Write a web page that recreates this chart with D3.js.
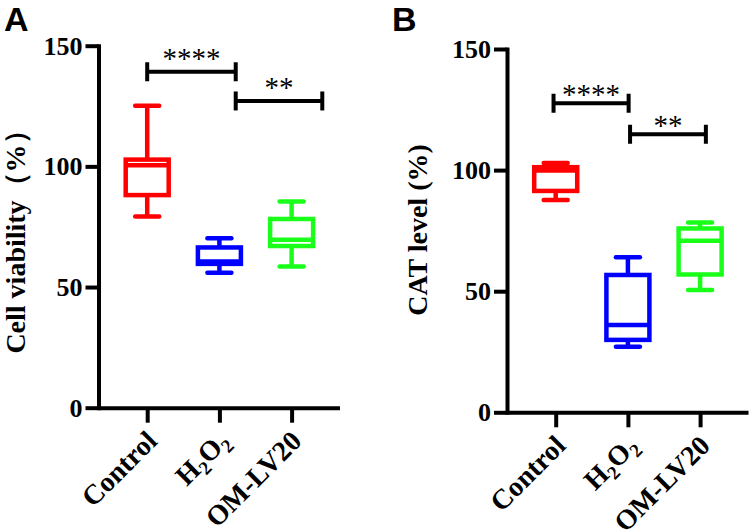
<!DOCTYPE html>
<html><head><meta charset="utf-8">
<script src="https://cdn.jsdelivr.net/npm/d3@7"></script>
<style>body{margin:0;background:#fff}svg{display:block}</style>
</head><body><svg id="c" width="751" height="530"></svg>
<script>
const categories = ["Control", "H2O2", "OM-LV20"];
const boxColors = ["#ff0000", "#0000ff", "#1aff1a"];
const yTickValues = [0, 50, 100, 150];

// Panel A — Cell viability (%)
const viabMin = [79.2, 55.9, 58.5];
const viabQ1 = [88.1, 59.6, 67.0];
const viabMedian = [100.5, 60.6, 69.6];
const viabQ3 = [102.8, 66.4, 78.2];
const viabMax = [125.1, 70.2, 85.4];
const viabSigLabels = ["****", "**"];
const viabSigFrom = [0, 1.226];
const viabSigTo = [1.226, 2.425];
const viabSigLevel = [139.2, 127.1];

// Panel B — CAT level (%)
const catMin = [87.7, 27.1, 50.5];
const catQ1 = [91.4, 29.9, 56.9];
const catMedian = [99.8, 36.0, 70.8];
const catQ3 = [101.2, 56.7, 75.9];
const catMax = [102.9, 64.0, 78.4];
const catSigLabels = ["****", "**"];
const catSigFrom = [-0.03, 1.03];
const catSigTo = [1.01, 2.08];
const catSigLevel = [127.6, 114.8];

const svg = d3.select("#c");
const SERIF = "'Liberation Serif','Times New Roman',serif";

function drawPanel(o) {
  const g = svg.append("g");
  const y = d3.scaleLinear().domain([0, 150]).range([o.y0, o.y150]);
  const step = 72.2, off = 48.7, len = 241;
  const x = d3.scaleLinear().domain([-off / step, (len - off) / step]).range([o.ax, o.ax + len]);

  // y axis
  const ya = g.append("g").attr("transform", `translate(${o.ax},0)`)
    .call(d3.axisLeft(y).tickValues(yTickValues).tickSize(13).tickSizeOuter(0).tickPadding(3));
  ya.selectAll("path,line").attr("stroke", "#000").attr("stroke-width", 4);
  ya.select("path").attr("stroke-linecap", "square");
  ya.selectAll("text").attr("font-family", SERIF).attr("font-weight", "bold")
    .attr("font-size", 26).attr("fill", "#000").attr("dy", "0.33em");

  // x axis
  const xa = g.append("g").attr("transform", `translate(0,${o.y0})`)
    .call(d3.axisBottom(x).tickValues([0, 1, 2]).tickSize(15).tickSizeOuter(0).tickFormat(""));
  xa.selectAll("path,line").attr("stroke", "#000").attr("stroke-width", 4);

  // x labels
  categories.forEach((c, i) => {
    const t = g.append("text")
      .attr("transform", `translate(${x(i) + 11.5},${o.y0 + 35}) rotate(-45)`)
      .attr("text-anchor", "end").attr("font-family", SERIF).attr("font-weight", "bold")
      .attr("font-size", 28).attr("fill", "#000");
    if (c === "H2O2") {
      t.append("tspan").text("H");
      t.append("tspan").text("2").attr("font-size", 19).attr("dy", 6);
      t.append("tspan").text("O").attr("dy", -6);
      t.append("tspan").text("2").attr("font-size", 19).attr("dy", 6);
    } else {
      t.text(c);
    }
  });

  // title
  g.append("text")
    .attr("transform", `translate(${o.titleX},${o.titleY}) rotate(-90)`)
    .attr("text-anchor", "middle").attr("font-family", SERIF).attr("font-weight", "bold")
    .attr("font-size", 28).attr("fill", "#000").text(o.title);

  // panel letter
  g.append("text").attr("x", o.letterX).attr("y", 31)
    .attr("font-family", "'Liberation Sans',Arial,sans-serif").attr("font-weight", "bold")
    .attr("font-size", 34).attr("fill", "#000").text(o.letter);

  // boxes
  const hw = 21.5, cw = 12;
  categories.forEach((c, i) => {
    const col = boxColors[i], cx = x(i);
    const bg = g.append("g").attr("stroke", col).attr("stroke-width", 4.5).attr("fill", "none");
    bg.append("line").attr("x1", cx).attr("x2", cx).attr("y1", y(o.max[i])).attr("y2", y(o.q3[i]));
    bg.append("line").attr("x1", cx).attr("x2", cx).attr("y1", y(o.min[i])).attr("y2", y(o.q1[i]));
    bg.append("line").attr("x1", cx - cw).attr("x2", cx + cw).attr("y1", y(o.max[i])).attr("y2", y(o.max[i])).attr("stroke-linecap", "round");
    bg.append("line").attr("x1", cx - cw).attr("x2", cx + cw).attr("y1", y(o.min[i])).attr("y2", y(o.min[i])).attr("stroke-linecap", "round");
    bg.append("rect").attr("x", cx - hw).attr("width", 2 * hw)
      .attr("y", y(o.q3[i])).attr("height", y(o.q1[i]) - y(o.q3[i])).attr("fill", "#fff");
    bg.append("line").attr("x1", cx - hw).attr("x2", cx + hw).attr("y1", y(o.median[i])).attr("y2", y(o.median[i]));
  });

  // significance brackets
  o.sigLabels.forEach((lab, k) => {
    const x1 = x(o.sigFrom[k]), x2 = x(o.sigTo[k]), yy = y(o.sigLevel[k]);
    const sg = g.append("g").attr("stroke", "#000").attr("stroke-width", 4);
    sg.append("line").attr("x1", x1).attr("x2", x2).attr("y1", yy).attr("y2", yy);
    sg.append("line").attr("x1", x1).attr("x2", x1).attr("y1", yy - 9.5).attr("y2", yy + 9.5);
    sg.append("line").attr("x1", x2).attr("x2", x2).attr("y1", yy - 9.5).attr("y2", yy + 9.5);
    g.append("text").attr("x", (x1 + x2) / 2).attr("y", yy + o.sigDy)
      .attr("text-anchor", "middle").attr("font-family", SERIF).attr("font-size", 29)
      .attr("fill", "#000").text(lab);
  });
}

drawPanel({
  ax: 98.5, y0: 407.7, y150: 45.7, title: "Cell viability（%）", titleX: 25, titleY: 235,
  letter: "A", letterX: 4,
  min: viabMin, q1: viabQ1, median: viabMedian, q3: viabQ3, max: viabMax,
  sigLabels: viabSigLabels, sigFrom: viabSigFrom, sigTo: viabSigTo, sigLevel: viabSigLevel, sigDy: -4
});
drawPanel({
  ax: 507, y0: 412.3, y150: 49, title: "CAT level (%)", titleX: 426.7, titleY: 230,
  letter: "B", letterX: 392,
  min: catMin, q1: catQ1, median: catMedian, q3: catQ3, max: catMax,
  sigLabels: catSigLabels, sigFrom: catSigFrom, sigTo: catSigTo, sigLevel: catSigLevel, sigDy: 1
});
</script></body></html>
